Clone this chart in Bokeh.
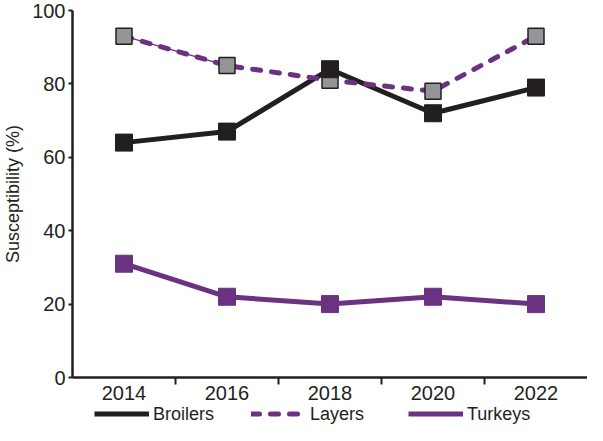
from bokeh.plotting import figure
from bokeh.layouts import column
from bokeh.models import Range1d, FixedTicker, Legend, LegendItem
from bokeh.embed import file_html
from bokeh.resources import INLINE

years = [2014, 2016, 2018, 2020, 2022]
year_labels = ["2014", "2016", "2018", "2020", "2022"]
boundaries = [2015, 2017, 2019, 2021]
broilers = [64, 67, 84, 72, 79]
layers = [93, 85, 81, 78, 93]
turkeys = [31, 22, 20, 22, 20]
y_ticks = [0, 20, 40, 60, 80, 100]
series_names = ["Broilers", "Layers", "Turkeys"]

DARK = "#231f20"
PURPLE = "#6b3282"
GRAY = "#939598"
FONT = "Liberation Sans"

styles = {
    "Broilers": dict(line_color=DARK, line_width=5),
    "Layers": dict(line_color=PURPLE, line_width=5, line_dash="8 11", line_cap="round"),
    "Turkeys": dict(line_color=PURPLE, line_width=5),
}
values = {"Broilers": broilers, "Layers": layers, "Turkeys": turkeys}

p = figure(width=587, height=402, output_backend="svg", toolbar_location=None,
           x_range=Range1d(2013, 2023), y_range=Range1d(0, 100),
           min_border_left=65, min_border_top=10, min_border_right=0, min_border_bottom=0)
p.outline_line_color = None
p.grid.visible = False

# x axis
p.xaxis.ticker = FixedTicker(ticks=years, minor_ticks=boundaries)
p.xaxis.major_label_overrides = {y: s for y, s in zip(years, year_labels)}
p.xaxis.major_tick_line_color = None
p.xaxis.major_tick_out = 3
p.xaxis.major_tick_in = 0
p.xaxis.minor_tick_line_color = DARK
p.xaxis.minor_tick_line_width = 2
p.xaxis.minor_tick_out = 7
p.xaxis.minor_tick_in = 0
p.xaxis.major_label_standoff = 1
p.xaxis.axis_line_width = 2.5
p.xaxis.axis_line_color = DARK
p.xaxis.major_label_text_font = FONT
p.xaxis.major_label_text_font_size = "20px"
p.xaxis.major_label_text_color = DARK

# y axis
p.yaxis.ticker = FixedTicker(ticks=y_ticks)
p.yaxis.minor_tick_line_color = None
p.yaxis.major_tick_out = 4
p.yaxis.major_tick_in = 0
p.yaxis.major_tick_line_width = 2
p.yaxis.major_tick_line_color = DARK
p.yaxis.axis_line_width = 2.5
p.yaxis.axis_line_color = DARK
p.yaxis.major_label_text_font = FONT
p.yaxis.major_label_text_font_size = "20px"
p.yaxis.major_label_text_color = DARK
p.yaxis.major_label_standoff = 3
p.yaxis.axis_label = "Susceptibility (%)"
p.yaxis.axis_label_text_font = FONT
p.yaxis.axis_label_text_font_size = "18px"
p.yaxis.axis_label_text_font_style = "normal"
p.yaxis.axis_label_text_color = DARK
p.yaxis.axis_label_standoff = 6

# series lines
p.line(years[:2], layers[:2], line_color=PURPLE, line_width=1.2)
for name in series_names:
    p.line(years, values[name], **styles[name])

p.scatter(years, layers, marker="square", size=16, fill_color=GRAY,
          line_color=DARK, line_width=1.5)
p.scatter(years, broilers, marker="square", size=17, fill_color=DARK,
          line_color=DARK, line_width=1)
p.scatter(years, turkeys, marker="square", size=17, fill_color=PURPLE,
          line_color=PURPLE, line_width=1)

# legend strip below the chart
lg = figure(width=587, height=23, output_backend="svg", toolbar_location=None,
            x_axis_type=None, y_axis_type=None, min_border=0,
            x_range=Range1d(0, 1), y_range=Range1d(0, 1))
lg.outline_line_color = None
lg.grid.visible = False
items = []
for name in series_names:
    r = lg.line(years, values[name], visible=False, **styles[name])
    items.append(LegendItem(label=name, renderers=[r]))

legend = Legend(items=items, orientation="horizontal", location="center_left")
legend.border_line_color = None
legend.background_fill_alpha = 0
legend.padding = 0
legend.margin = 22
legend.spacing = 2
legend.glyph_width = 55
legend.glyph_height = 16
legend.label_height = 16
legend.label_width = 96
legend.label_standoff = 4
legend.label_text_font = FONT
legend.label_text_font_size = "18px"
legend.label_text_color = DARK
lg.add_layout(legend)

layout = column(p, lg, spacing=0)
open("out.html", "w").write(file_html(layout, INLINE))
